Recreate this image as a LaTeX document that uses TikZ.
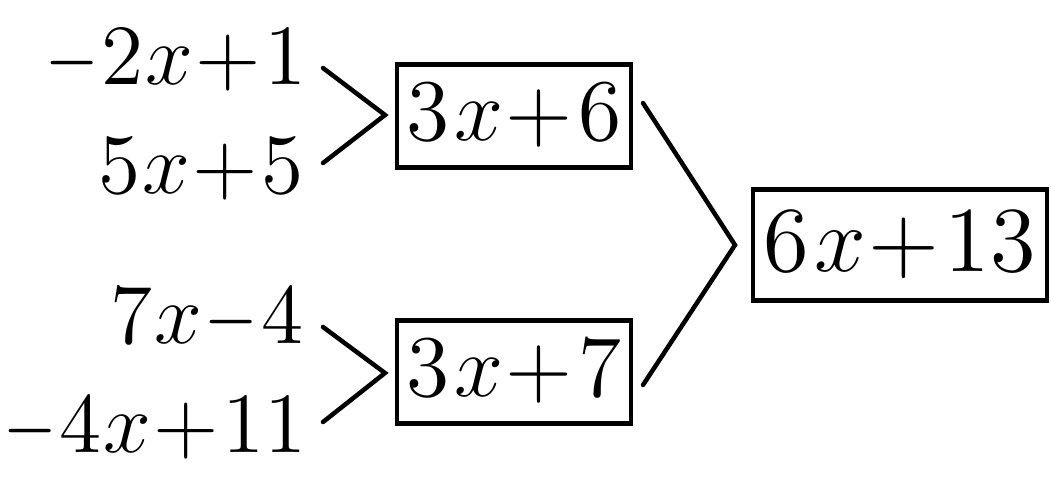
\RequirePackage{fix-cm}
\documentclass[tikz,border=0pt]{standalone}
\newcommand{\sm}[1]{\scalebox{7.33}{\fontsize{12}{14}\selectfont$#1$}}
\newcommand{\lb}[1]{\scalebox{7.15}{\fontsize{12}{14}\selectfont$#1$}}
\newcommand{\bg}[1]{\scalebox{7.75}{\fontsize{12}{14}\selectfont$#1$}}
\newcommand{\pl}{\mkern0.5mu{+}\mkern1.1mu}
\newcommand{\lpl}{\mkern0.3mu{+}\mkern0.9mu}
\newcommand{\mi}{\mathord{\scalebox{0.8}[1]{$-$}}}
\newcommand{\mn}{\mkern0.3mu\mi\mkern0.9mu}
\newcommand{\X}{\mkern0.9mu x}
\newcommand{\LX}{\mkern0.5mu x}
\begin{document}
\begin{tikzpicture}[x=1pt,y=-1pt,
  lbl/.style={inner sep=0pt,anchor=base east},
  sbox/.style={draw,line width=4.5pt,inner xsep=10pt,inner ysep=20pt},
  bbox/.style={draw,line width=4.5pt,inner xsep=11pt,inner ysep=22pt},
  conn/.style={line width=4.5pt,line cap=round,line join=miter}]
\useasboundingbox (0,0) rectangle (1051,480);
\node[lbl] (a1) at (307,84) {\lb{\mi\mkern0.6mu 2\LX\lpl 1}};
\node[lbl] (a2) at (304,193) {\lb{5\LX\lpl 5}};
\node[lbl] (b1) at (304,343) {\lb{7\LX\mn 4}};
\node[lbl] (b2) at (307,452) {\lb{\mi\mkern0.6mu 4\LX\lpl 11}};
\node[sbox] (s1) at (514,116) {\sm{3\X\pl 6}};
\node[sbox] (s2) at (514,372) {\sm{3\X\pl 7}};
\node[bbox] (t) at (900,245) {\bg{6\X\pl 13}};
\coordinate (a1e) at (323,68);
\coordinate (a2e) at (323,163);
\coordinate (at) at (385,115);
\coordinate (b1e) at (323,327);
\coordinate (b2e) at (323,422);
\coordinate (bt) at (385,373);
\coordinate (s1e) at (643,103);
\coordinate (s2e) at (643,385);
\coordinate (tt) at (735,245);
\draw[conn] (a1e) -- (at) -- (a2e);
\draw[conn] (b1e) -- (bt) -- (b2e);
\draw[conn] (s1e) -- (tt) -- (s2e);
\end{tikzpicture}
\end{document}
